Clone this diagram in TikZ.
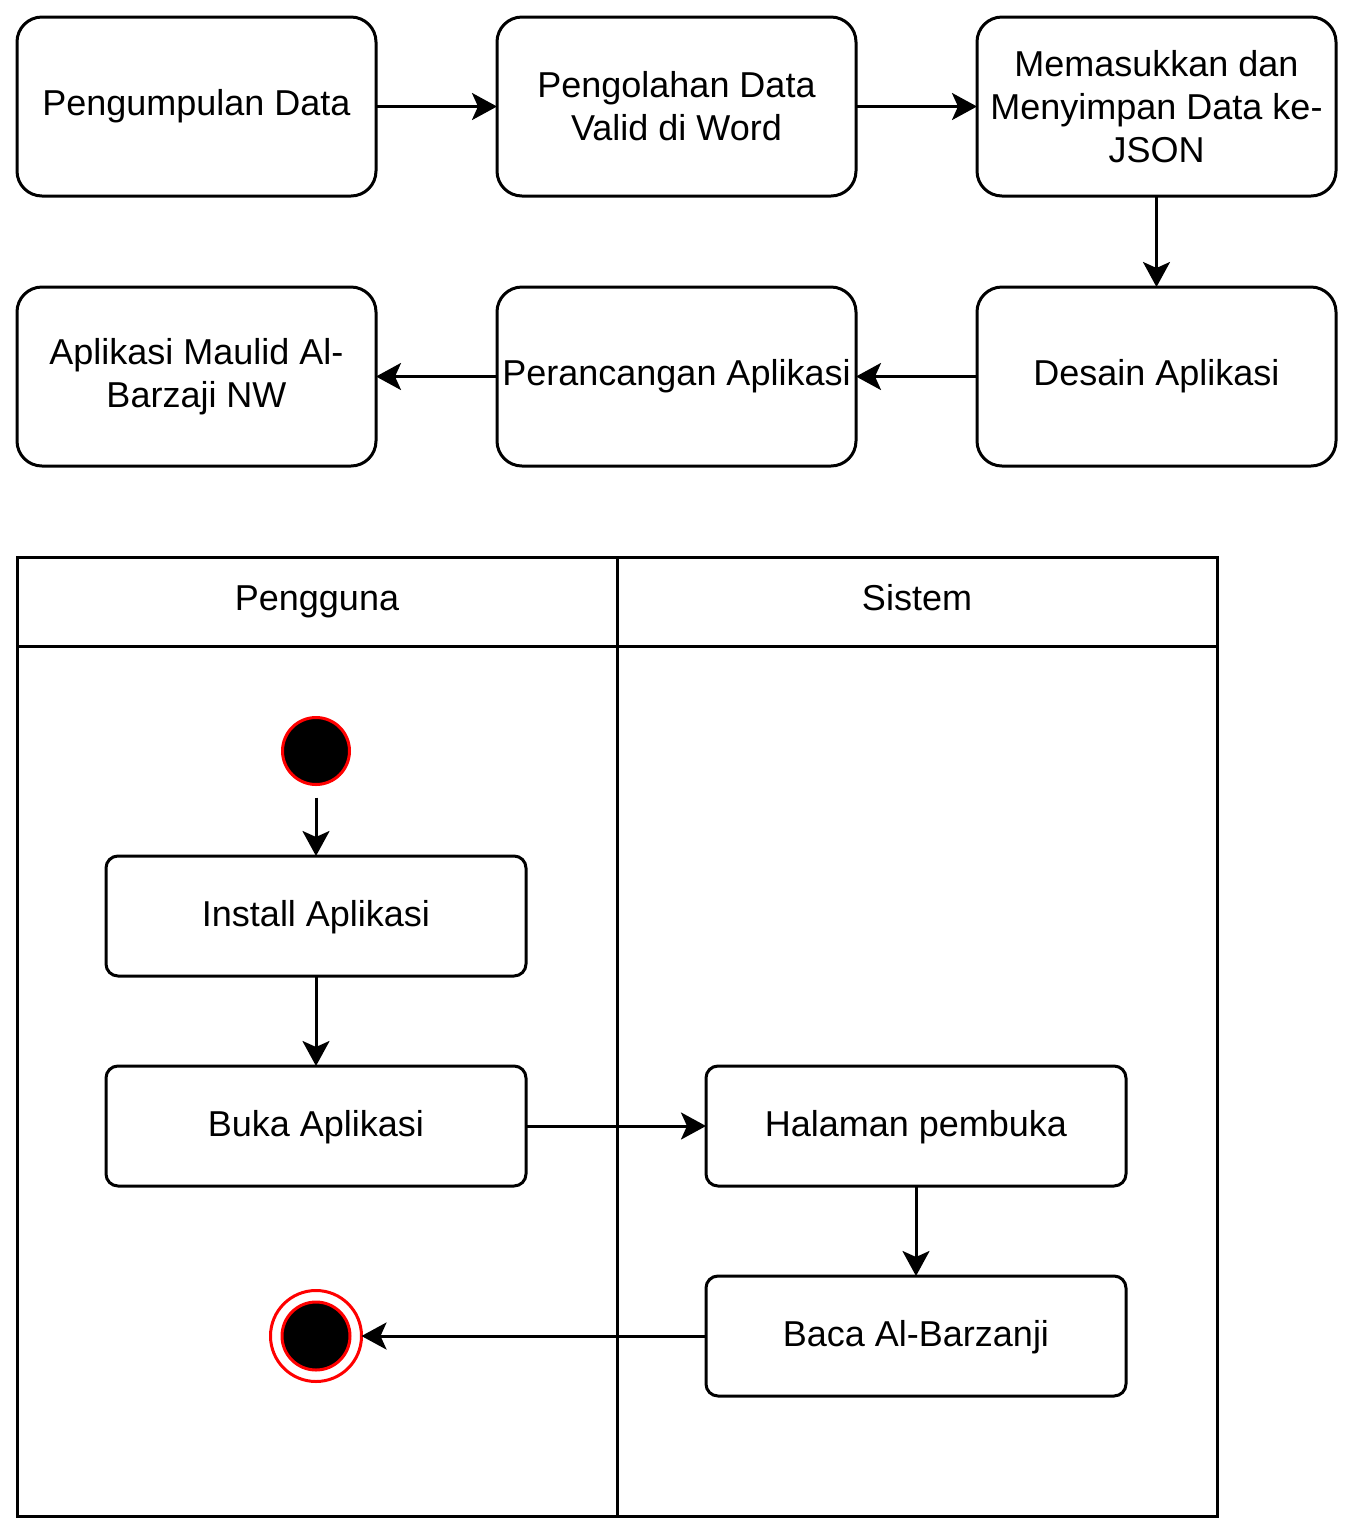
\documentclass[tikz,border=0pt]{standalone}
\usepackage{fontspec}
\setmainfont{Liberation Sans}
\usetikzlibrary{positioning, arrows.meta}

\begin{document}
\begin{tikzpicture}[x=0.5pt, y=-0.5pt, >={Stealth[length=12.5pt, width=13.5pt, inset=3pt]},
    line width=1.5pt, every node/.style={align=center, outer sep=0pt, font=\fontsize{18}{21.5}\selectfont},
    tahap/.style={draw, rounded corners=12.5pt, minimum width=179.5pt, minimum height=89.5pt, inner sep=1pt},
    aksi/.style={draw, rounded corners=6pt, minimum width=210pt, minimum height=60pt, text height=13pt, text depth=2.4pt},
    lajur/.style={draw, minimum width=300pt, inner sep=0pt}]
    \useasboundingbox (0,0) rectangle (1353,1533);

    % alur pengembangan
    \node (kumpul) [tahap] at (196.5,106.5) {Pengumpulan Data};
    \node (olah) [tahap, right=60.5pt of kumpul] {Pengolahan Data\\Valid di Word};
    \node (json) [tahap, right=60.5pt of olah] {Memasukkan dan\\Menyimpan Data ke-\\JSON};
    \node (desain) [tahap, below=45.5pt of json] {Desain Aplikasi};
    \node (rancang) [tahap, left=60.5pt of desain] {Perancangan Aplikasi};
    \node (aplikasi) [tahap, left=60.5pt of rancang] {Aplikasi Maulid Al-\\Barzaji NW};

    \draw[->] (kumpul) -- (olah);
    \draw[->] (olah) -- (json);
    \draw[->] (json) -- (desain);
    \draw[->] (desain) -- (rancang);
    \draw[->] (rancang) -- (aplikasi);

    % swimlane
    \node (hpengguna) [lajur, minimum height=44.5pt] at (317,601.5) {\strut Pengguna};
    \node (hsistem) [lajur, minimum height=44.5pt] at (917,601.5) {\strut Sistem};
    \node (lpengguna) [lajur, minimum height=435pt, below=0pt of hpengguna] {};
    \node (lsistem) [lajur, minimum height=435pt, below=0pt of hsistem] {};

    % aktivitas
    \node (mulai) [circle, draw=red, fill=black, minimum size=33.5pt, inner sep=0pt] at (316,751) {};
    \node (install) [aksi] at (316,916) {Install Aplikasi};
    \node (buka) [aksi, below=45pt of install] {Buka Aplikasi};
    \node (halaman) [aksi] at (916,1126) {Halaman pembuka};
    \node (baca) [aksi, below=45pt of halaman] {Baca Al-Barzanji};
    \node (selesai) [circle, draw=red, minimum size=45.5pt, inner sep=0pt] at (316,1336) {};
    \node (selesaiin) [circle, draw=red, fill=black, minimum size=34pt, inner sep=0pt] at (selesai) {};

    \draw[->, shorten <=6.5pt] (mulai) -- (install);
    \draw[->] (install) -- (buka);
    \draw[->] (buka) -- (halaman);
    \draw[->] (halaman) -- (baca);
    \draw[->] (baca) -- (selesai);
\end{tikzpicture}
\end{document}
